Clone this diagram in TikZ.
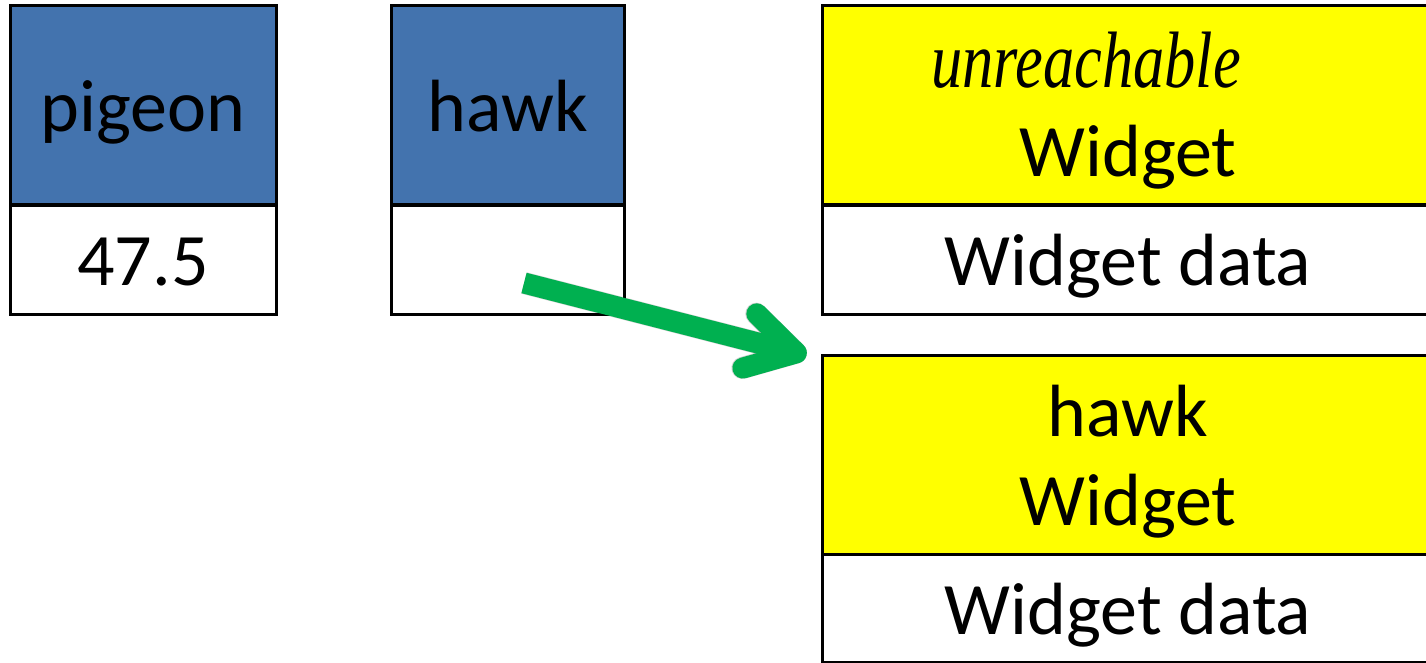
\documentclass[tikz,border=0pt]{standalone}
\usepackage{fontspec}
\setmainfont{Carlito}
\newfontfamily\serifit[FakeStretch=0.78]{Liberation Serif}
\usetikzlibrary{arrows.meta,calc}
\definecolor{cellblue}{HTML}{4373AE}
\definecolor{cellyellow}{HTML}{FFFF00}
\definecolor{ptrgreen}{HTML}{00B050}
\begin{document}
\begin{tikzpicture}[x=1pt,y=-1pt,
  cell/.style={draw=black, line width=3pt, rectangle, inner sep=0pt,
    font=\fontsize{74}{89}\selectfont, text height=60pt, text depth=8pt},
  namecell/.style={cell, fill=cellblue},
  valcell/.style={cell, fill=white},
  typecell/.style={cell, fill=cellyellow, align=center, text height=150pt, text depth=8pt},
  ptr/.style={draw=ptrgreen, line width=21pt,
    -{Straight Barb[round, length=48pt, width=56pt]}},
  ptrshadow/.style={draw=black, line width=22pt, opacity=0.18,
    -{Straight Barb[round, length=48pt, width=56pt]}}
]
\clip (0,0) rectangle (1426,663);
\fill[white] (0,0) rectangle (1426,663);

% variable pigeon
\node[namecell, minimum width=266pt, minimum height=199pt] (pigeonname) at (143,105.5) {pigeon};
\node[valcell,  minimum width=266pt, minimum height=109pt] (pigeonval)  at (143,259.5) {47.5};

% variable hawk
\node[namecell, minimum width=233pt, minimum height=199pt] (hawkname) at (507.5,105.5) {hawk};
\node[valcell,  minimum width=233pt, minimum height=109pt] (hawkval)  at (507.5,259.5) {};

% heap objects
\node[typecell, minimum width=612pt, minimum height=199pt] (w1type) at (1128,105.5)
  {{\serifit\fontsize{80}{87}\selectfont\itshape unreachable}\hspace*{84pt}\\Widget};
\node[valcell,  minimum width=612pt, minimum height=109pt] (w1data) at (1128,259.5) {Widget data};
\node[typecell, minimum width=612pt, minimum height=199pt] (w2type) at (1128,454.5)
  {hawk\\Widget};
\node[valcell,  minimum width=612pt, minimum height=108pt] (w2data) at (1128,608) {Widget data};

% reference from hawk to its Widget
\coordinate (ptrstart) at ($(hawkval.center)+(16.5,23.5)$);
\coordinate (ptrend)   at ($(w2type.north west)+(-14,2)$);
\draw[ptrshadow, xshift=-3pt, yshift=-5pt] (ptrstart) -- (ptrend);
\draw[ptr] (ptrstart) -- (ptrend);
\end{tikzpicture}
\end{document}
